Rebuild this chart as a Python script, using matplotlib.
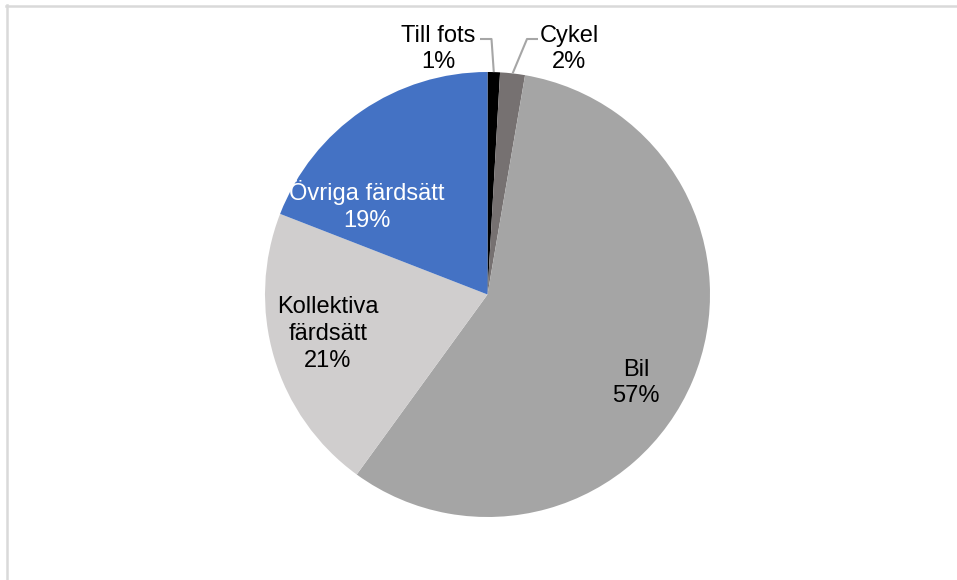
import matplotlib
matplotlib.use("Agg")
import matplotlib.pyplot as plt
from matplotlib.lines import Line2D
import numpy as np

plt.rcParams['font.family'] = ['Liberation Sans', 'DejaVu Sans']

categories = ["Till fots", "Cykel", "Bil", "Kollektiva\nfärdsätt", "Övriga färdsätt"]
values = [0.9, 1.8, 57.3, 20.9, 19.1]
pct_labels = ["1%", "2%", "57%", "21%", "19%"]
colors = ["#000000", "#767171", "#A5A5A5", "#D0CECE", "#4472C4"]
text_colors = ["#000000", "#000000", "#000000", "#000000", "#FFFFFF"]

W, H = 957, 580
fig = plt.figure(figsize=(W / 100, H / 100), dpi=100)
fig.patch.set_facecolor("white")

cx, cy, r = 487.5, 294.5, 222.5
ax = fig.add_axes([(cx - r) / W, (H - cy - r) / H, 2 * r / W, 2 * r / H])
wedges, _ = ax.pie(values, colors=colors, startangle=90, counterclock=False,
                   radius=1.0, wedgeprops=dict(linewidth=0))
ax.set_xlim(-1, 1)
ax.set_ylim(-1, 1)
ax.axis("off")


def px2d(px, py):
    return (px - cx) / r, (cy - py) / r


fs = 17
# label centers in pixel coordinates
label_pos = [(438, 49), (569, 49), (636, 383), (328, 334), (367, 206)]
for cat, pct, pos, tc in zip(categories, pct_labels, label_pos, text_colors):
    x, y = px2d(*pos)
    ax.text(x, y, f"{cat}\n{pct}", ha="center", va="center", fontsize=fs,
            color=tc, linespacing=1.27, clip_on=False)

# leader lines for the two small slices
cum = np.cumsum([0] + values)
lead_col = "#A6A6A6"
for i, (hx0, hx1) in zip([0, 1], [(480, 491.5), (538, 527)]):
    mid = (cum[i] + cum[i + 1]) / 2 / 100 * 2 * np.pi
    ex, ey = np.sin(mid), np.cos(mid)
    x0, y0 = px2d(hx0, 39)
    x1, y1 = px2d(hx1, 39)
    ax.plot([x0, x1, ex], [y0, y1, ey], color=lead_col, lw=1.5, clip_on=False,
            solid_capstyle="butt")

# outer frame (top and left edges visible)
fig.add_artist(Line2D([6 / W, 1], [1 - 6 / H, 1 - 6 / H], color="#D9D9D9", lw=1.8,
                      transform=fig.transFigure))
fig.add_artist(Line2D([7 / W, 7 / W], [0, 1 - 5 / H], color="#D9D9D9", lw=1.8,
                      transform=fig.transFigure))

fig.savefig("out.png", dpi=100, facecolor="white")
